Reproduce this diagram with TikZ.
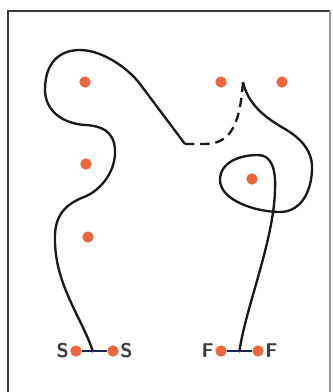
\documentclass[tikz,border=0pt]{standalone}
\usepackage{xcolor}
\usepackage{tikz}
\usetikzlibrary{positioning, calc}
\definecolor{mydot}{RGB}{236,104,60}
\definecolor{mydark}{RGB}{25,25,25}
\definecolor{myblue}{RGB}{40,60,140}
\definecolor{myframe}{RGB}{60,60,60}
\tikzset{
  spot/.style={circle, fill=mydot, inner sep=0pt, minimum size=0.34cm},
  joint/.style={circle, fill=myblue, inner sep=0pt, minimum size=0.1cm},
  tag/.style={font=\fontsize{17}{17}\selectfont\sffamily\bfseries, text=mydark!85, inner sep=1pt},
  route/.style={line width=2pt, color=mydark, line join=round},
  bar/.style={line width=1.3pt, color=myblue!60!black}
}
\begin{document}
\begin{tikzpicture}[x=0.03cm, y=-0.03cm]
  \useasboundingbox (0,0) rectangle (332,392);
  % frame
  \draw[line width=1.2pt, color=myframe] (8,392) -- (8,11) -- (330,11);
  \draw[line width=1pt, color=myframe!50] (330,11) -- (330,392);

  % targets
  \node[spot] (t1) at (85,82) {};
  \node[spot] (t2) at (86,164) {};
  \node[spot] (t3) at (88,237) {};
  \node[spot] (t4) at (221,82) {};
  \node[spot] (t5) at (282,82) {};
  \node[spot] (t6) at (252,179) {};

  % start and finish
  \node[spot] (sl) at (76,351) {};
  \node[spot] (sr) at (113,351) {};
  \node[spot] (fl) at (221,351) {};
  \node[spot] (fr) at (258,351) {};
  \node[tag, left=0pt of sl] {S};
  \node[tag, right=0pt of sr] {S};
  \node[tag, left=0pt of fl] {F};
  \node[tag, right=0pt of fr] {F};
  \draw[bar] (sl) -- (sr);
  \draw[bar] (fl) -- (fr);
  \node[joint] (sm) at ($(sl)!0.45!(sr)$) {};
  \node[joint] (fm) at ($(fl)!0.5!(fr)$) {};

  \coordinate (bend) at (185,144);
  \coordinate (tip) at (243,82);

  % path
  \draw[route] (sm.center) .. controls (83,320) and (55,285) .. (55,240)
    .. controls (54,215) and (66,204) .. (84,197)
    .. controls (102,190) and (116,170) .. (115,150)
    .. controls (114,130) and (100,126) .. (86,125)
    .. controls (62,124) and (45,110) .. (45,90)
    .. controls (45,62) and (60,50) .. (80,50)
    .. controls (102,50) and (128,68) .. (140,84) -- (bend);
  \draw[route, dash pattern=on 8pt off 5pt] (bend) -- (205,144)
    .. controls (232,144) and (240,122) .. (tip);
  \draw[route] (tip) .. controls (248,104) and (264,117) .. (285,129)
    .. controls (302,139) and (313,152) .. (312,170)
    .. controls (311,196) and (298,212) .. (280,212)
    .. controls (255,212) and (220,200) .. (220,180)
    .. controls (220,162) and (240,155) .. (258,155)
    .. controls (272,155) and (276,170) .. (275,190)
    .. controls (274,240) and (245,310) .. (fm.center);
\end{tikzpicture}
\end{document}
